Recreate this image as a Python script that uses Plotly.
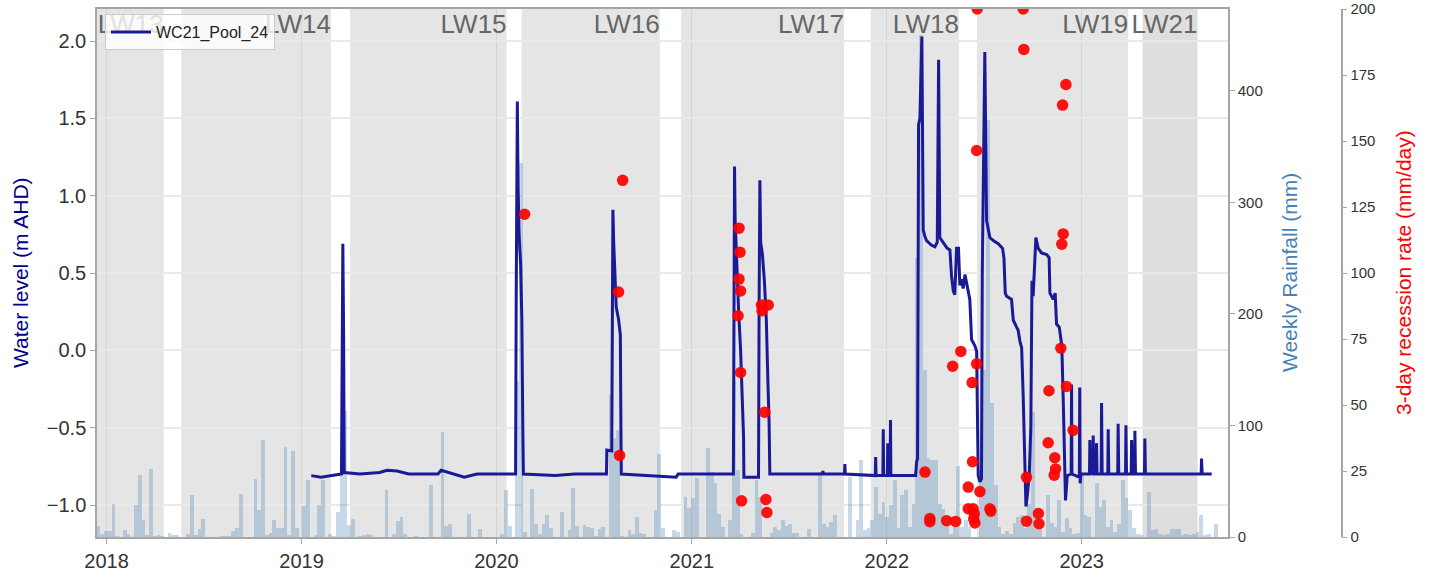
import pandas as pd
import plotly.graph_objects as go

# ---------------------------------------------------------------- data
# Weekly rainfall totals (mm), one bar per week from RAIN_START
RAIN_START = "2017-12-17"
weekly_rain_mm = [
    10, 3, 5, 5, 30, 1, 0, 6, 3, 0,
    29, 56, 15, 1.5, 61, 1, 1.5, 1, 0, 4,
    1.5, 1.5, 0, 0, 3, 38, 1.5, 7, 16, 0,
    0, 0, 0, 1, 1, 1, 5, 8, 39, 0,
    0, 0, 52, 24, 87, 2, 4, 15, 8, 8,
    81, 2, 77, 8, 0, 28, 51, 0, 2, 29,
    51, 0, 3, 1, 22, 77, 113, 11, 16, 0,
    1, 2, 3, 1.5, 0, 0, 0, 42, 0, 3,
    14.6, 18, 3, 0, 0, 1, 0, 0, 0, 46.6,
    0, 0, 94.5, 10, 12, 0, 0, 0, 0, 20.6,
    0, 0, 7, 0, 0, 0, 0, 0, 3, 42,
    10, 0, 140, 335, 4.5, 0, 43, 11.7, 3, 12,
    19.7, 7.8, 0, 0, 22, 0, 6.3, 44, 10, 0,
    10.8, 9.3, 7.8, 1, 7, 9.3, 0, 127, 88.5, 96,
    1, 0, 6.3, 3, 18, 4, 3, 0, 0, 24,
    74, 7.8, 0, 0, 6.3, 4.8, 0, 36, 25.7, 35,
    52.6, 0, 0, 79.5, 58.6, 48, 21, 9, 0, 15,
    140, 60, 3, 0, 0, 4, 50.8, 35.9, 0, 0,
    4, 9, 6, 15, 10, 11.7, 4, 4, 0, 0,
    7, 0, 0, 58.6, 11.7, 9, 13.8, 19.7, 0, 0,
    0, 54, 0, 15, 69, 6, 7.8, 15, 45, 21,
    31, 18, 28.7, 51, 7.8, 37.7, 42, 9, 30, 250,
    450, 150, 70.5, 69, 69, 30, 25, 12, 3, 10,
    63.7, 9, 15, 9, 0, 0, 60, 150, 374, 120,
    46.6, 9, 3, 5, 3, 12.3, 18, 19.7, 8, 30,
    112, 25.7, 8, 0, 37.7, 12.9, 9, 33, 4.5, 16.7,
    8, 3, 4, 56.5, 19.7, 18, 0, 48, 27, 33,
    9, 15, 4.5, 12, 51, 34.7, 24, 8, 3, 2,
    0, 40.7, 6.3, 7, 3, 1.5, 3, 7, 7, 7,
    1.5, 3, 2, 3, 4.5, 19.7, 2, 3, 0, 11.7,
]

# Pool water level, WC21_Pool_24 (decimal year, m AHD)
level_year = [
    2019.050, 2019.100, 2019.205, 2019.209, 2019.212, 2019.216, 2019.219,
    2019.300, 2019.400, 2019.440, 2019.490, 2019.550, 2019.700, 2019.716,
    2019.760, 2019.835, 2019.900,
    2020.098, 2020.101, 2020.104, 2020.107, 2020.111, 2020.116, 2020.124,
    2020.130, 2020.135, 2020.138, 2020.300, 2020.400,
    2020.563, 2020.565, 2020.590, 2020.593, 2020.596, 2020.600, 2020.606,
    2020.613, 2020.625, 2020.634, 2020.637, 2020.639, 2020.920, 2020.930,
    2021.213, 2021.216, 2021.219, 2021.222, 2021.230, 2021.240, 2021.250,
    2021.260, 2021.265, 2021.267, 2021.342, 2021.345, 2021.349, 2021.353,
    2021.362, 2021.372, 2021.382, 2021.390, 2021.396, 2021.400,
    2021.670, 2021.672, 2021.675, 2021.783, 2021.785, 2021.787,
    2021.941, 2021.943, 2021.945, 2021.980, 2021.982, 2021.984,
    2022.003, 2022.005, 2022.007, 2022.017, 2022.019, 2022.021,
    2022.148, 2022.153, 2022.158, 2022.163, 2022.170, 2022.180, 2022.187,
    2022.195, 2022.204, 2022.230, 2022.247, 2022.259, 2022.266, 2022.272,
    2022.289, 2022.310, 2022.324, 2022.332, 2022.341, 2022.349, 2022.358,
    2022.368, 2022.375, 2022.384, 2022.392, 2022.401, 2022.409, 2022.418,
    2022.426, 2022.435, 2022.443, 2022.452, 2022.461, 2022.469, 2022.478,
    2022.486, 2022.490, 2022.503, 2022.512, 2022.529, 2022.546, 2022.572,
    2022.594, 2022.601, 2022.608, 2022.615, 2022.640, 2022.649, 2022.666,
    2022.674, 2022.683, 2022.692, 2022.700, 2022.709, 2022.714, 2022.720,
    2022.731, 2022.739, 2022.745, 2022.751, 2022.758, 2022.765, 2022.777,
    2022.794, 2022.820, 2022.833, 2022.837, 2022.854, 2022.864, 2022.871,
    2022.885, 2022.892, 2022.898, 2022.905, 2022.917, 2022.926,
    2022.946, 2022.948, 2022.950, 2022.988, 2022.990, 2022.992, 2022.996,
    2023.040, 2023.042, 2023.045, 2023.057, 2023.059, 2023.062,
    2023.074, 2023.076, 2023.079, 2023.100, 2023.102, 2023.105,
    2023.134, 2023.136, 2023.139, 2023.185, 2023.187, 2023.190,
    2023.225, 2023.227, 2023.230, 2023.254, 2023.256, 2023.259,
    2023.271, 2023.273, 2023.276, 2023.322, 2023.324, 2023.327,
    2023.613, 2023.615, 2023.618, 2023.667,
]
level_m = [
    -0.81, -0.82, -0.80, 0.10, 0.69, 0.10, -0.79,
    -0.80, -0.79, -0.775, -0.78, -0.80, -0.80, -0.775,
    -0.79, -0.82, -0.80,
    -0.80, 0.30, 1.25, 1.61, 1.05, 0.75, 0.55,
    0.20, -0.50, -0.80, -0.81, -0.80,
    -0.80, -0.645, -0.65, 0.20, 0.91, 0.70, 0.45,
    0.28, 0.20, 0.10, -0.50, -0.80, -0.82, -0.80,
    -0.80, 0.50, 1.19, 0.85, 0.55, 0.25, 0.00,
    -0.30, -0.55, -0.82, -0.82, 0.30, 1.10, 0.70,
    0.62, 0.45, 0.20, -0.20, -0.45, -0.80,
    -0.80, -0.78, -0.80, -0.80, -0.735, -0.80,
    -0.81, -0.69, -0.81, -0.81, -0.51, -0.81,
    -0.81, -0.60, -0.81, -0.81, -0.45, -0.81,
    -0.81, -0.72, -0.70, 1.46, 1.50, 2.03, 0.78,
    0.74, 0.71, 0.68, 0.67, 0.70, 1.88, 0.73,
    0.70, 0.66, 0.65, 0.485, 0.385, 0.36, 0.66,
    0.66, 0.42, 0.46, 0.40, 0.49, 0.44, 0.385,
    0.33, 0.07, 0.05, 0.03, -0.006, -0.81, -0.85,
    -0.83, 0.50, 1.93, 0.84, 0.73, 0.71, 0.69,
    0.66, 0.60, 0.37, 0.35, 0.33, 0.195, 0.15,
    0.13, 0.06, 0.016, -0.30, -0.90, -1.01, -0.95,
    -0.81, -0.50, 0.45, 0.35, 0.55, 0.73, 0.66,
    0.63, 0.62, 0.60, 0.37, 0.33, 0.37, 0.17,
    0.15, 0.10, 0.03, -0.30, -0.97, -0.81,
    -0.80, -0.22, -0.80, -0.82, -0.24, -0.86, -0.80,
    -0.80, -0.58, -0.79, -0.80, -0.55, -0.80,
    -0.80, -0.60, -0.80, -0.80, -0.34, -0.80,
    -0.80, -0.51, -0.80, -0.80, -0.475, -0.80,
    -0.80, -0.485, -0.80, -0.80, -0.58, -0.80,
    -0.80, -0.52, -0.80, -0.80, -0.57, -0.80,
    -0.80, -0.70, -0.80, -0.80,
]

# 3-day recession rate events (decimal year, mm/day)
recession_year = [
    2020.144, 2020.646, 2020.625, 2020.630,
    2021.242, 2021.247, 2021.242, 2021.250, 2021.237, 2021.250, 2021.255,
    2021.357, 2021.392, 2021.360, 2021.374, 2021.380, 2021.385,
    2022.196, 2022.221, 2022.221, 2022.307, 2022.353, 2022.338, 2022.380,
    2022.438, 2022.440, 2022.418, 2022.418, 2022.464, 2022.461, 2022.461,
    2022.478, 2022.443, 2022.449, 2022.446, 2022.452, 2022.529, 2022.534,
    2022.700, 2022.703, 2022.717, 2022.717, 2022.778, 2022.781,
    2022.828, 2022.832, 2022.859, 2022.866, 2022.862, 2022.893, 2022.898,
    2022.905, 2022.902, 2022.919, 2022.922, 2022.956,
]
recession_rate = [
    122.3, 135.1, 92.8, 30.9,
    117.0, 107.9, 97.7, 93.2, 83.8, 62.3, 13.7,
    87.9, 87.9, 85.7, 47.3, 14.2, 9.3,
    24.6, 7.0, 5.8, 6.2, 5.9, 64.7, 70.3,
    58.5, 28.5, 18.9, 10.7, 200.0, 146.4, 65.6,
    17.2, 10.7, 8.8, 6.8, 5.3, 10.7, 9.8,
    200.0, 184.7, 22.6, 6.0, 8.9, 5.0,
    35.7, 55.4, 23.4, 25.8, 30.0, 71.5, 110.9,
    114.8, 163.6, 171.4, 57.0, 40.4,
]

# Longwall extraction periods
panel_names = ["LW13", "LW14", "LW15", "LW16", "LW17", "LW18", "LW19", "LW21"]
panel_start = ["2017-09-01", "2018-05-21", "2019-04-02", "2020-02-17",
               "2020-12-12", "2021-12-02", "2022-06-19", "2023-04-25"]
panel_end = ["2018-04-18", "2019-02-25", "2020-01-20", "2020-11-02",
             "2021-10-13", "2022-05-16", "2023-03-29", "2023-08-06"]

year_ticks = [2018, 2019, 2020, 2021, 2022, 2023]


# ---------------------------------------------------------------- helpers
def year_to_date(y):
    yr = int(y)
    t0 = pd.Timestamp(yr, 1, 1)
    t1 = pd.Timestamp(yr + 1, 1, 1)
    return t0 + (t1 - t0) * (y - yr)


rain_dates = pd.date_range(RAIN_START, periods=len(weekly_rain_mm), freq="7D")
level_dates = [year_to_date(y) for y in level_year]
recession_dates = [year_to_date(y) for y in recession_year]

FONT = "Liberation Sans, Arial, sans-serif"
SPINE = "#a6a6a6"
WEEK_MS = 7 * 24 * 3600 * 1000

fig = go.Figure()

# Weekly rainfall bars (base axis, right side)
fig.add_trace(go.Bar(
    x=rain_dates, y=weekly_rain_mm, width=WEEK_MS,
    marker=dict(color="rgba(70,130,180,0.30)", line=dict(width=0)),
    showlegend=False, hoverinfo="skip", yaxis="y",
))

# Pool water level
fig.add_trace(go.Scatter(
    x=level_dates, y=level_m, mode="lines", name="WC21_Pool_24",
    line=dict(color="#1a1a96", width=3), yaxis="y2",
))

# Longwall panel labels, right-aligned to the end of each period
fig.add_trace(go.Scatter(
    x=pd.to_datetime(panel_end), y=[198.5] * len(panel_names), mode="text",
    text=panel_names, textposition="bottom left",
    textfont=dict(family=FONT, size=26, color="#666666"),
    showlegend=False, hoverinfo="skip", yaxis="y3", cliponaxis=False,
))

# Recession rate points
fig.add_trace(go.Scatter(
    x=recession_dates, y=recession_rate, mode="markers",
    marker=dict(color="rgba(255,0,0,0.92)", size=11.5),
    showlegend=False, yaxis="y3",
))

# Shaded longwall periods
for name, s, e in zip(panel_names, panel_start, panel_end):
    fig.add_shape(
        type="rect", xref="x", yref="paper", x0=s, x1=e, y0=0, y1=1,
        fillcolor="#dedede" if name == "LW21" else "#e5e5e5",
        line=dict(width=0), layer="below",
    )

TOP = 9
PLOT_W = 1432 - 97 - 60
PLOT_H = 578 - TOP - 41
X_END = 1131 / PLOT_W

axis_common = dict(
    showline=True, linecolor=SPINE, linewidth=1.5, ticks="outside",
    ticklen=5, tickwidth=1.2, tickcolor=SPINE, zeroline=False,
    automargin=False, ticklabeloverflow="allow",
)

fig.update_layout(
    width=1432, height=578,
    margin=dict(l=97, r=60, t=TOP, b=41, autoexpand=False),
    paper_bgcolor="white", plot_bgcolor="white",
    font=dict(family=FONT, color="#333333"),
    bargap=0,
    xaxis=dict(
        type="date", domain=[0, X_END],
        range=["2017-12-14", "2023-10-02"],
        tickvals=[f"{y}-01-01" for y in year_ticks],
        ticktext=[str(y) for y in year_ticks],
        tickfont=dict(size=20, color="#333333"),
        showgrid=True, gridcolor="#d4d4d4", gridwidth=1.2,
        mirror=True, **axis_common,
    ),
    yaxis=dict(
        range=[0, 473.5], side="right", anchor="x",
        tickvals=[0, 100, 200, 300, 400],
        tickfont=dict(size=15, color="#333333"),
        showgrid=False, **axis_common,
    ),
    yaxis2=dict(
        range=[-1.207, 2.208], side="left", anchor="x", overlaying="y",
        tickvals=[-1.0, -0.5, 0.0, 0.5, 1.0, 1.5, 2.0], tickformat=".1f",
        tickfont=dict(size=20, color="#333333"),
        showgrid=True, gridcolor="#e9e9e9", gridwidth=1.6,
        **axis_common,
    ),
    yaxis3=dict(
        range=[0, 200.01], side="right", anchor="free", overlaying="y",
        position=(1341.7 - 97) / PLOT_W,
        tickvals=list(range(0, 201, 25)),
        tickfont=dict(size=15, color="#333333"),
        showgrid=False, **axis_common,
    ),
    legend=dict(
        x=8 / PLOT_W, y=1 - 5 / PLOT_H, xanchor="left", yanchor="top",
        bgcolor="rgba(255,255,255,0.8)", bordercolor="#cccccc", borderwidth=1,
        font=dict(family=FONT, size=16, color="#222222"),
        itemwidth=40,
    ),
    annotations=[
        dict(text="Water level (m AHD)", xref="paper", yref="paper",
             x=(20 - 97) / PLOT_W, y=0.5, textangle=-90, showarrow=False,
             xanchor="center", yanchor="middle",
             font=dict(family=FONT, size=21, color="#00008b")),
        dict(text="Weekly Rainfall (mm)", xref="paper", yref="paper",
             x=(1289 - 97) / PLOT_W, y=0.5, textangle=-90, showarrow=False,
             xanchor="center", yanchor="middle",
             font=dict(family=FONT, size=21, color="#4682b4")),
        dict(text="3-day recession rate (mm/day)", xref="paper", yref="paper",
             x=(1403 - 97) / PLOT_W, y=0.5, textangle=-90, showarrow=False,
             xanchor="center", yanchor="middle",
             font=dict(family=FONT, size=21, color="#ff0000")),
    ],
)

fig.write_html("out.html")
